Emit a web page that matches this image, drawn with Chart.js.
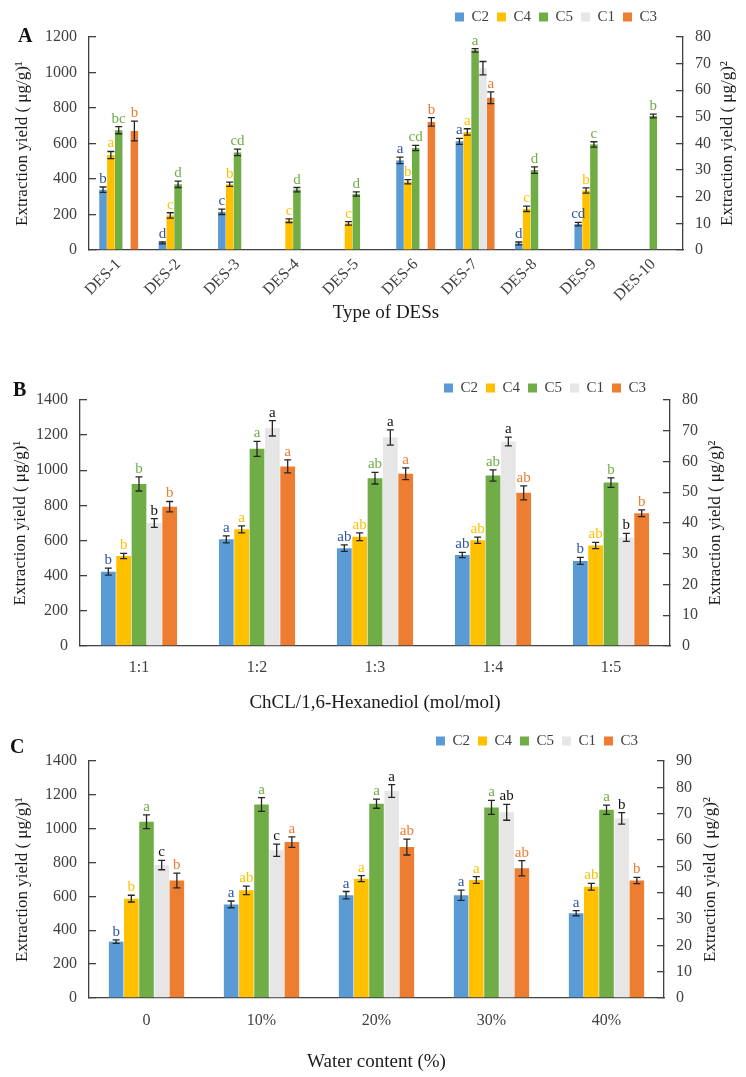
<!DOCTYPE html>
<html>
<head>
<meta charset="utf-8">
<script src="https://cdn.jsdelivr.net/npm/chart.js@4.4.1/dist/chart.umd.min.js"></script>
<style>
  html, body { margin: 0; padding: 0; background: #fff; }
  body { width: 746px; height: 1077px; position: relative; overflow: hidden; font-family: 'Liberation Serif', 'Times New Roman', serif; }
  canvas { position: absolute; left: 0; }
  .tag { position: absolute; font-weight: bold; font-size: 20px; line-height: 20px; color: #111; }
</style>
</head>
<body>
<canvas id="chartA" width="746" height="328" style="top:0px"></canvas>
<canvas id="chartB" width="746" height="390" style="top:328px"></canvas>
<canvas id="chartC" width="746" height="359" style="top:718px"></canvas>
<div class="tag" style="left:18px; top:25px">A</div>
<div class="tag" style="left:13px; top:379px">B</div>
<div class="tag" style="left:10px; top:736px">C</div>
<script>
// series order as in the legend; C1 and C3 use the right axis
const seriesNames = ['C2', 'C4', 'C5', 'C1', 'C3'];
const barColors = ['#5B9BD5', '#FFC000', '#70AD47', '#E7E6E6', '#ED7D31'];
const letterColors = ['#2F55A4', '#FFC000', '#70AD47', '#111111', '#ED7D31'];
const axisOf = ['y', 'y', 'y', 'y1', 'y1'];

// ---- A: type of DES ----
const desTypes = ['DES-1', 'DES-2', 'DES-3', 'DES-4', 'DES-5', 'DES-6', 'DES-7', 'DES-8', 'DES-9', 'DES-10'];
const aC2 = [340, 40, 215, null, null, 505, 612, 37, 146, null];
const aC4 = [535, 195, 370, 165, 150, 385, 665, 232, 335, null];
const aC5 = [675, 370, 550, 340, 315, 575, 1125, 450, 595, 755];
const aC1 = [null, null, null, null, null, null, 68.3, null, null, null];
const aC3 = [44.7, null, null, null, null, 48.1, 57.2, null, null, null];
const aC2Err = [15, 5, 15, 0, 0, 18, 17, 8, 10, 0];
const aC4Err = [20, 15, 12, 10, 10, 12, 18, 15, 15, 0];
const aC5Err = [20, 18, 18, 12, 12, 15, 10, 18, 15, 11];
const aC1Err = [0, 0, 0, 0, 0, 0, 2.5, 0, 0, 0];
const aC3Err = [3.7, 0, 0, 0, 0, 1.6, 2.2, 0, 0, 0];
const aC2Sig = ['b', 'd', 'c', '', '', 'a', 'a', 'd', 'cd', ''];
const aC4Sig = ['a', 'c', 'b', 'c', 'c', 'b', 'a', 'c', 'b', ''];
const aC5Sig = ['bc', 'd', 'cd', 'd', 'd', 'cd', 'a', 'd', 'c', 'b'];
const aC1Sig = ['', '', '', '', '', '', '', '', '', ''];
const aC3Sig = ['b', '', '', '', '', 'b', 'a', '', '', ''];

// ---- B: molar ratio ----
const ratios = ['1:1', '1:2', '1:3', '1:4', '1:5'];
const bC2 = [423, 607, 557, 518, 484];
const bC4 = [512, 664, 622, 602, 572];
const bC5 = [922, 1122, 955, 970, 930];
const bC1 = [40, 70.8, 67.8, 66.5, 35.3];
const bC3 = [45.3, 58.4, 56, 49.8, 43.2];
const bC2Err = [20, 20, 18, 15, 20];
const bC4Err = [15, 20, 22, 18, 18];
const bC5Err = [40, 43, 33, 32, 27];
const bC1Err = [1.4, 2.5, 2.5, 1.4, 1.3];
const bC3Err = [1.7, 2.1, 1.9, 2.3, 1.1];
const bC2Sig = ['b', 'a', 'ab', 'ab', 'b'];
const bC4Sig = ['b', 'a', 'ab', 'ab', 'ab'];
const bC5Sig = ['b', 'a', 'ab', 'ab', 'b'];
const bC1Sig = ['b', 'a', 'a', 'a', 'b'];
const bC3Sig = ['b', 'a', 'a', 'ab', 'b'];

// ---- C: water content ----
const waterLevels = ['0', '10%', '20%', '30%', '40%'];
const cC2 = [333, 553, 607, 607, 501];
const cC4 = [587, 636, 705, 697, 657];
const cC5 = [1041, 1143, 1148, 1126, 1112];
const cC1 = [50.5, 56.1, 78.6, 70.5, 68.2];
const cC3 = [44.6, 59.2, 57.3, 49.3, 44.6];
const cC2Err = [10, 20, 22, 30, 15];
const cC4Err = [20, 25, 18, 20, 20];
const cC5Err = [41, 41, 27, 41, 27];
const cC1Err = [1.8, 2.3, 2.4, 3.0, 2.2];
const cC3Err = [2.8, 2.0, 3.0, 2.9, 1.2];
const cC2Sig = ['b', 'a', 'a', 'a', 'a'];
const cC4Sig = ['b', 'ab', 'a', 'a', 'ab'];
const cC5Sig = ['a', 'a', 'a', 'a', 'a'];
const cC1Sig = ['c', 'c', 'a', 'ab', 'b'];
const cC3Sig = ['b', 'a', 'ab', 'ab', 'b'];

const FONT = "'Liberation Serif', 'Times New Roman', serif";
const INK = '#404040';
const leftTitle = 'Extraction yield ( μg/g)¹';
const rightTitleText = 'Extraction yield ( μg/g)²';

// error bars + significance letters, drawn from each dataset's own y scale
const errorBars = {
  id: 'errorBars',
  afterDatasetsDraw(chart) {
    const ctx = chart.ctx;
    ctx.save();
    chart.data.datasets.forEach((ds, i) => {
      const meta = chart.getDatasetMeta(i);
      const scale = chart.scales[ds.yAxisID];
      meta.data.forEach((bar, j) => {
        const v = ds.data[j];
        if (v === null || v === undefined) return;
        const e = ds.errors[j] || 0;
        const top = scale.getPixelForValue(v + e);
        const bot = scale.getPixelForValue(v - e);
        ctx.strokeStyle = '#262626';
        ctx.lineWidth = 1.3;
        ctx.beginPath();
        ctx.moveTo(bar.x, top); ctx.lineTo(bar.x, bot);
        ctx.moveTo(bar.x - 3.5, top); ctx.lineTo(bar.x + 3.5, top);
        ctx.moveTo(bar.x - 3.5, bot); ctx.lineTo(bar.x + 3.5, bot);
        ctx.stroke();
        const s = ds.letters[j];
        if (s) {
          ctx.fillStyle = ds.letterColor;
          ctx.font = '15px ' + FONT;
          ctx.textAlign = 'center';
          ctx.textBaseline = 'alphabetic';
          ctx.fillText(s, bar.x, top - 4);
        }
      });
    });
    ctx.restore();
  }
};

// move the legend to where it sits in the figure
const legendPos = {
  id: 'legendPos',
  afterUpdate(chart, args, o) {
    const lg = chart.legend;
    if (!lg) return;
    const pad = lg.options.labels.padding;
    const dx = o.right + pad - lg.right;
    const dy = o.cy - (lg.top + pad + o.ih / 2);
    lg.left += dx; lg.right += dx;
    lg.top += dy; lg.bottom += dy;
  }
};

// right axis title reads bottom-to-top like the left one
const rightTitle = {
  id: 'rightTitle',
  afterDraw(chart, args, o) {
    const s = chart.scales.y1;
    const area = chart.chartArea;
    const ctx = chart.ctx;
    ctx.save();
    ctx.translate(s.right - o.offset, (area.top + area.bottom) / 2);
    ctx.rotate(-Math.PI / 2);
    ctx.font = '17px ' + FONT;
    ctx.fillStyle = '#1a1a1a';
    ctx.textAlign = 'center';
    ctx.textBaseline = 'middle';
    ctx.fillText(o.text, 0, 0);
    ctx.restore();
  }
};

function yAxis(pos, max, step, width, title) {
  return {
    type: 'linear',
    position: pos,
    min: 0, max: max,
    afterFit: s => { s.width = width; },
    grid: { drawOnChartArea: false, tickLength: -7, color: INK, lineWidth: 1.3 },
    border: { color: INK, width: 1.3 },
    ticks: { stepSize: step, padding: 19, color: INK, font: { family: FONT, size: 16 },
             callback: v => String(v) },
    title: title
  };
}

function buildChart(id, p) {
  const datasets = seriesNames.map((name, k) => ({
    label: name,
    data: p.values[k],
    errors: p.errors[k],
    letters: p.letters[k],
    letterColor: letterColors[k],
    backgroundColor: barColors[k],
    borderWidth: 0,
    yAxisID: axisOf[k],
    categoryPercentage: p.catPct,
    barPercentage: 0.96
  }));

  return new Chart(document.getElementById(id), {
    type: 'bar',
    data: { labels: p.labels, datasets: datasets },
    options: {
      responsive: false,
      animation: false,
      devicePixelRatio: 1,
      layout: { padding: { top: p.padTop, bottom: p.padBottom, left: 0, right: 0 } },
      scales: {
        x: {
          afterFit: s => { s.height = p.xHeight; },
          grid: { display: false, drawTicks: false },
          border: { display: true, color: INK, width: 1.3 },
          ticks: { color: INK, padding: p.xPad, minRotation: p.rot, maxRotation: p.rot,
                   font: { family: FONT, size: p.xFont } },
          title: { display: true, text: p.xTitle, color: '#1a1a1a', font: { family: FONT, size: 19 },
                   padding: { top: 0, bottom: 0 } }
        },
        y: yAxis('left', p.leftMax, 200, p.leftW,
                 { display: true, text: leftTitle, color: '#1a1a1a', font: { family: FONT, size: 17 },
                   padding: { top: p.leftTitlePad, bottom: 0 } }),
        y1: yAxis('right', p.rightMax, 10, p.rightW, { display: false })
      },
      plugins: {
        tooltip: { enabled: false },
        legend: {
          position: 'top', align: 'end', fullSize: false, maxHeight: 33,
          labels: { boxWidth: 9, boxHeight: 9, padding: 8, color: INK, font: { family: FONT, size: 15 } }
        },
        legendPos: p.legend,
        rightTitle: { text: rightTitleText, offset: p.rightTitleOffset }
      }
    },
    plugins: [errorBars, legendPos, rightTitle]
  });
}

buildChart('chartA', {
  labels: desTypes,
  values: [aC2, aC4, aC5, aC1, aC3],
  errors: [aC2Err, aC4Err, aC5Err, aC1Err, aC3Err],
  letters: [aC2Sig, aC4Sig, aC5Sig, aC1Sig, aC3Sig],
  catPct: 0.66, padTop: 4, padBottom: 4, xHeight: 74, xPad: 5, rot: 45, xFont: 16,
  xTitle: 'Type of DESs', leftMax: 1200, rightMax: 80, leftW: 89, rightW: 63,
  leftTitlePad: 12, rightTitleOffset: 18,
  legend: { right: 657, cy: 17, ih: 15 }
});

buildChart('chartB', {
  labels: ratios,
  values: [bC2, bC4, bC5, bC1, bC3],
  errors: [bC2Err, bC4Err, bC5Err, bC1Err, bC3Err],
  letters: [bC2Sig, bC4Sig, bC5Sig, bC1Sig, bC3Sig],
  catPct: 0.65, padTop: 39, padBottom: 4, xHeight: 68, xPad: 12, rot: 0, xFont: 16,
  xTitle: 'ChCL/1,6-Hexanediol (mol/mol)', leftMax: 1400, rightMax: 80, leftW: 80, rightW: 76,
  leftTitlePad: 10, rightTitleOffset: 30,
  legend: { right: 646, cy: 60, ih: 15 }
});

buildChart('chartC', {
  labels: waterLevels,
  values: [cC2, cC4, cC5, cC1, cC3],
  errors: [cC2Err, cC4Err, cC5Err, cC1Err, cC3Err],
  letters: [cC2Sig, cC4Sig, cC5Sig, cC1Sig, cC3Sig],
  catPct: 0.66, padTop: 10, padBottom: 4, xHeight: 75, xPad: 13, rot: 0, xFont: 16,
  xTitle: 'Water content (%)', leftMax: 1400, rightMax: 90, leftW: 89, rightW: 82,
  leftTitlePad: 12, rightTitleOffset: 35,
  legend: { right: 638, cy: 23, ih: 15 }
});
</script>
</body>
</html>
